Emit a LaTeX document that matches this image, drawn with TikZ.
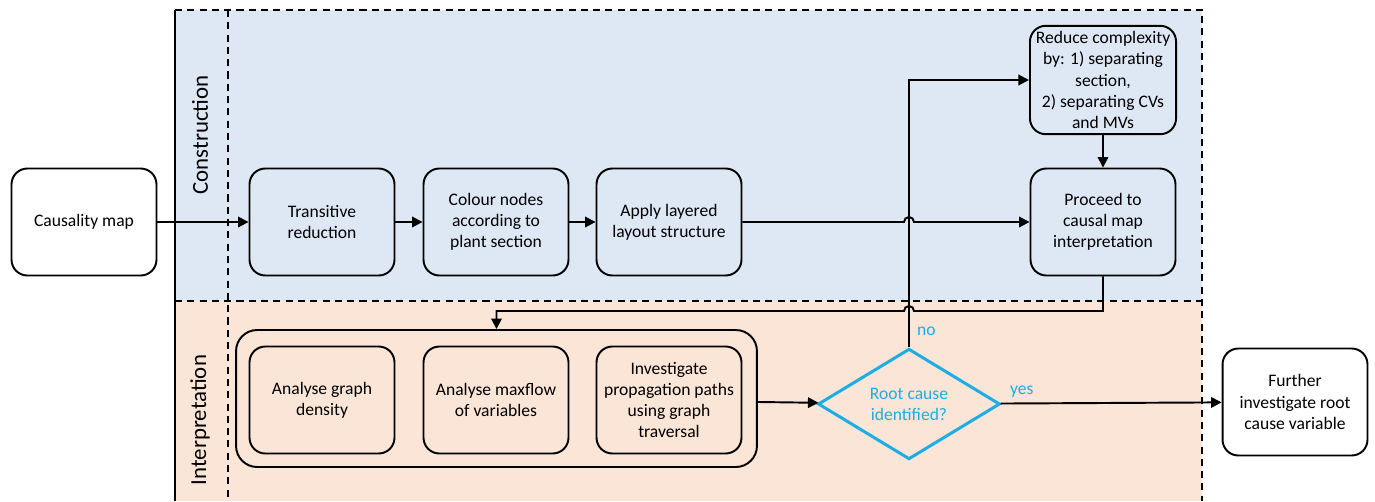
\documentclass[tikz,border=0pt]{standalone}
\usepackage{fontspec}
\setmainfont{Carlito}
\usetikzlibrary{shapes.geometric,arrows.meta}
\definecolor{bandblue}{HTML}{DEE8F5}
\definecolor{bandorange}{HTML}{FBE5D6}
\definecolor{rcblue}{HTML}{1CADE4}
\begin{document}
\begin{tikzpicture}[x=0.02cm,y=-0.02cm]
\tikzstyle{box}=[rectangle,rounded corners=9pt,draw,line width=1.1pt,align=center,
  minimum width=2.9cm,minimum height=2.14cm,font=\fontsize{10}{12}\selectfont]
\tikzstyle{line}=[line width=1.1pt,-{Triangle[length=6pt,width=6pt]}]
\tikzstyle{band}=[dashed,dash pattern=on 4pt off 3pt,line width=1pt]
\useasboundingbox (0,0) rectangle (1375,501);
% swimlanes
\fill[bandblue] (175,10) rectangle (1202,301);
\fill[bandorange] (175,301) rectangle (1202,501);
\draw[line width=1pt] (175,10) -- (175,501);
\draw[band] (175,10) -- (1202,10) -- (1202,501);
\draw[band] (175,301) -- (1202,301);
\draw[band] (228,10) -- (228,501);
\node[rotate=90,font=\fontsize{13}{15}\selectfont] (lanec) at (200,135) {Construction};
\node[rotate=90,font=\fontsize{13}{15}\selectfont] (lanei) at (200,420) {Interpretation};
% nodes
\node[style={box,fill=white}] (cmap) at (84,222) {Causality map};
\node[style={box,fill=bandblue}] (trans) at (322,222) {Transitive\\reduction};
\node[style={box,fill=bandblue}] (colour) at (496,222) {Colour nodes\\according to\\plant section};
\node[style={box,fill=bandblue}] (layer) at (669,222) {Apply layered\\layout structure};
\node[style={box,fill=bandblue}] (reduce) at (1103,80) {Reduce complexity\\by: 1) separating\\section,\\2) separating CVs\\and MVs};
\node[style={box,fill=bandblue}] (proceed) at (1103,222) {Proceed to\\causal map\\interpretation};
\node[draw,line width=1.1pt,rounded corners=12pt,minimum width=10.42cm,minimum height=2.74cm] (grp) at (496.5,398.5) {};
\node[style={box,fill=bandorange}] (density) at (322,400) {Analyse graph\\density};
\node[style={box,fill=bandorange}] (maxflow) at (496,400) {Analyse maxflow\\of variables};
\node[style={box,fill=bandorange}] (paths) at (669,400) {Investigate\\propagation paths\\using graph\\traversal};
\node[diamond,draw=rcblue,line width=1.7pt,text=rcblue,align=center,inner sep=0pt,
  minimum width=3.64cm,minimum height=2.14cm,font=\fontsize{10}{12}\selectfont] (root) at (909,404) {Root cause\\identified?};
\node[style={box,fill=white}] (further) at (1295,402) {Further\\investigate root\\cause variable};
% connectors
\path
  (cmap) [line] edge (trans)
  (trans) [line] edge (colour)
  (colour) [line] edge (layer)
  (reduce) [line] edge (proceed)
  (grp) [line] edge (root)
  (root) [line] edge (further);
\draw[line] (root.north) |- (reduce.west);
\draw[line] (layer.east) -- (904,222) arc[start angle=180,end angle=0,radius=0.1cm] -- (proceed.west);
\draw[line] (proceed.south) -- (1103,311) -- (914,311) arc[start angle=0,end angle=180,radius=0.1cm]
  -- (496.5,311) -- (grp.north);
\node[text=rcblue,anchor=west,font=\fontsize{10}{12}\selectfont] (nolbl) at (911,331) {no};
\node[text=rcblue,anchor=west,font=\fontsize{10}{12}\selectfont] (yeslbl) at (1004,392) {yes};
\end{tikzpicture}
\end{document}
